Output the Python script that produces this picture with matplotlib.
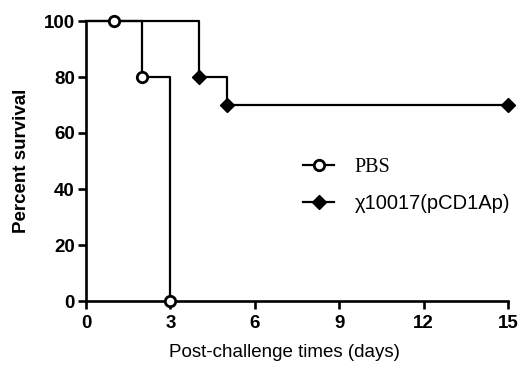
import matplotlib.pyplot as plt
from matplotlib.lines import Line2D

# survival curves (step), days vs percent
pbs_t = [0, 2, 3]
pbs_s = [100, 80, 0]
pbs_mark_t = [1, 2, 3]
pbs_mark_s = [100, 80, 0]

chi_t = [0, 4, 5, 15]
chi_s = [100, 80, 70, 70]
chi_mark_t = [4, 5, 15]
chi_mark_s = [80, 70, 70]

xticks = [0, 3, 6, 9, 12, 15]
yticks = [0, 20, 40, 60, 80, 100]

plt.rcParams['font.family'] = ['Liberation Sans', 'DejaVu Sans']

fig = plt.figure(figsize=(5.21, 3.67), dpi=100)
ax = fig.add_axes([86 / 521, 1 - 301 / 367, 422 / 521, 280 / 367])

ax.step(chi_t, chi_s, where='post', color='black', lw=1.6, clip_on=False, zorder=3)
ax.plot(chi_mark_t, chi_mark_s, 'D', color='black', ms=7.5, clip_on=False, zorder=4)
ax.step(pbs_t, pbs_s, where='post', color='black', lw=1.6, clip_on=False, zorder=3)
ax.plot(pbs_mark_t, pbs_mark_s, 'o', mfc='white', mec='black', mew=2, ms=7.5,
        clip_on=False, zorder=5)

ax.set_xlim(0, 15)
ax.set_ylim(0, 100)
ax.set_xticks(xticks)
ax.set_yticks(yticks)
for s in ['top', 'right']:
    ax.spines[s].set_visible(False)
for s in ['left', 'bottom']:
    ax.spines[s].set_linewidth(1.9)
ax.tick_params(direction='out', length=5.5, width=1.9, labelsize=13.5)
ax.tick_params(axis='y', pad=2.5)
ax.tick_params(axis='x', pad=4.5)
for lab in ax.get_xticklabels() + ax.get_yticklabels():
    lab.set_fontweight('bold')

ax.set_ylabel('Percent survival', fontsize=13.5, fontweight='bold', labelpad=10)
ax.set_xlabel('Post-challenge times (days)', fontsize=13.5)
ax.xaxis.set_label_coords(0.47, -0.155)

h1 = Line2D([], [], color='black', lw=1.6, marker='o', mfc='white', mec='black',
            mew=2, ms=7.5)
h2 = Line2D([], [], color='black', lw=1.6, marker='D', ms=7.5)
leg = fig.legend([h1, h2], ['PBS', '\u03c710017(pCD1Ap)'], loc='upper left',
                 bbox_to_anchor=(303 / 521, 1 - 158 / 367), frameon=False,
                 labelspacing=0.85, handlelength=1.55, handletextpad=1.0,
                 fontsize=14.5, borderaxespad=0, borderpad=0)
leg.get_texts()[0].set_family('Liberation Serif')

fig.savefig('out.png', dpi=100)
